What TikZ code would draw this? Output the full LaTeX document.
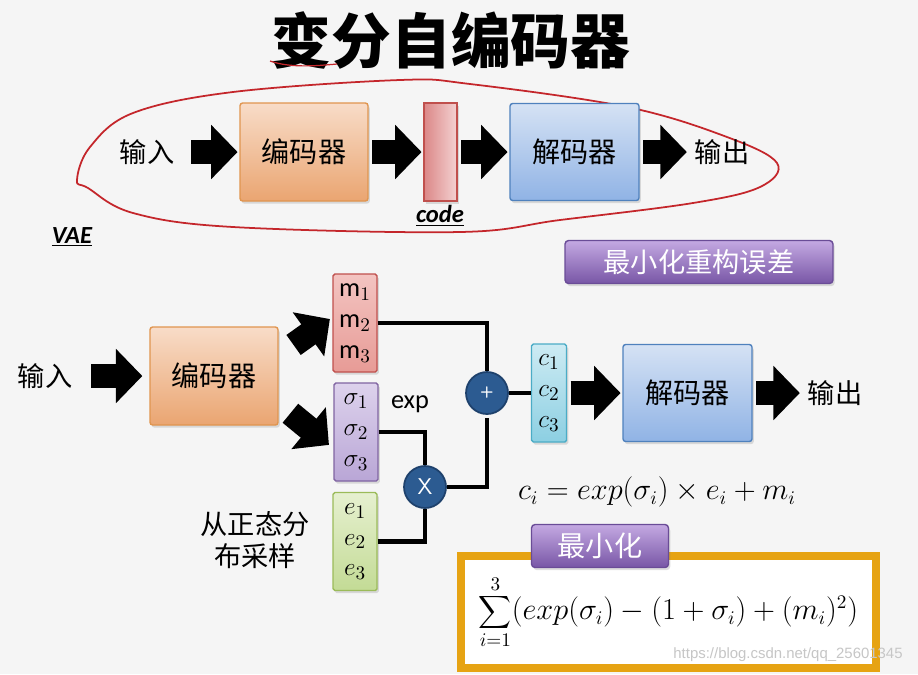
\documentclass[tikz,border=0pt]{standalone}
\usepackage{fontspec}
\setmainfont{Carlito}
\newfontfamily\cjk{Noto Sans CJK SC}
\newfontfamily\wmfont{Liberation Sans}
\usetikzlibrary{positioning,arrows.meta,shadows}

\definecolor{bgcol}{HTML}{F5F5F5}
\definecolor{encT}{HTML}{F8DCC8}
\definecolor{encB}{HTML}{EAA571}
\definecolor{encD}{HTML}{E0954F}
\definecolor{decT}{HTML}{D5E2F4}
\definecolor{decB}{HTML}{90B3E5}
\definecolor{decD}{HTML}{4F81BD}
\definecolor{codeL}{HTML}{DB8787}
\definecolor{codeR}{HTML}{F4D2D2}
\definecolor{redD}{HTML}{C0504D}
\definecolor{mT}{HTML}{F3C4C1}
\definecolor{mB}{HTML}{E79B96}
\definecolor{sT}{HTML}{DDD2EC}
\definecolor{sB}{HTML}{B9A6D6}
\definecolor{sD}{HTML}{8064A2}
\definecolor{eT}{HTML}{E6F0D0}
\definecolor{eB}{HTML}{C3DB95}
\definecolor{eD}{HTML}{9BBB59}
\definecolor{cT}{HTML}{CDEBF3}
\definecolor{cB}{HTML}{8CCFE2}
\definecolor{cD}{HTML}{4BACC6}
\definecolor{opfill}{HTML}{2C5B91}
\definecolor{opdraw}{HTML}{1E416C}
\definecolor{btnT}{HTML}{C4A9E2}
\definecolor{btnB}{HTML}{7856A6}
\definecolor{btnD}{HTML}{6A4C97}
\definecolor{lossD}{HTML}{E6A313}
\definecolor{inkred}{HTML}{C4262B}

\begin{document}
\begin{tikzpicture}[x=0.02cm,y=-0.02cm,
    softshadow/.style={drop shadow={opacity=0.25, shadow xshift=1pt, shadow yshift=-1.5pt}},
    block/.style={rectangle, rounded corners=1.5pt, minimum width=2.56cm, minimum height=1.96cm, line width=0.8pt, font=\cjk\fontsize{16}{18}\selectfont, softshadow},
    encbox/.style={block, top color=encT, bottom color=encB, draw=encD},
    decbox/.style={block, top color=decT, bottom color=decB, draw=decD},
    vec/.style={rectangle, rounded corners=1pt, minimum width=0.88cm, minimum height=1.96cm, inner sep=0pt, align=center, line width=0.8pt, font=\fontsize{15}{17.5}\selectfont, softshadow},
    op/.style={circle, minimum size=0.84cm, inner sep=0pt, fill=opfill, draw=opdraw, line width=1pt, text=white, font=\sffamily},
    fat/.style={line width=14pt, -{Triangle[width=30pt,length=15pt]}, shorten <=2pt, shorten >=1pt},
    wire/.style={line width=2.8pt},
    btn/.style={rectangle, rounded corners=2pt, top color=btnT, bottom color=btnB, draw=btnD, line width=0.8pt, text=white, font=\cjk\fontsize{15.5}{18}\selectfont, softshadow},
    lbl/.style={font=\cjk\fontsize{15.5}{18}\selectfont}]

    \fill[bgcol] (0,0) rectangle (918,674);
    \useasboundingbox (0,0) rectangle (918,674);

    \node[font=\cjk\bfseries\fontsize{34}{40}\selectfont] (title) at (451,40) {变分自编码器};
    \draw[inkred, line width=0.7pt] (270,61) .. controls (290,68) and (315,66) .. (337,64);

    \draw[inkred, line width=1pt] plot[smooth cycle, tension=0.6] coordinates {(77,180) (90,147) (133,113) (233,92) (400,80) (470,84) (627,107) (727,137) (777,163) (760,187) (693,203) (560,220) (460,232) (233,227) (133,213) (88,188)};

    \node[lbl] (in1) at (147,152) {输入};
    \node[encbox] (enc1) at (304,152) {编码器};
    \node[rectangle, minimum width=0.66cm, minimum height=1.96cm, left color=codeL, right color=codeR, draw=redD, line width=0.8pt, softshadow] (code) at (440.5,152) {};
    \node[decbox, minimum width=2.58cm, minimum height=1.94cm] (dec1) at (574.5,152) {解码器};
    \node[lbl] (out1) at (722,152) {输出};

    \draw[fat, shorten <=0.22cm] (in1) -- (enc1);
    \draw[fat] (enc1) -- (code);
    \draw[fat] (code) -- (dec1);
    \draw[fat] (dec1) -- (out1);

    \node[font=\bfseries\itshape\fontsize{14}{16}\selectfont] (codelbl) at (440,216) {\underline{code}};
    \node[font=\bfseries\itshape\fontsize{14}{16}\selectfont] (vaelbl) at (72,237) {\underline{VAE}};

    \node[btn, minimum width=5.36cm, minimum height=0.86cm] (recbtn) at (699,262) {最小化重构误差};

    \node[lbl] (in2) at (45,376) {输入};
    \node[encbox] (enc2) at (214,376) {编码器};
    \node[vec, top color=mT, bottom color=mB, draw=redD] (mbox) at (355,323) {m$_1$\\m$_2$\\m$_3$};
    \node[vec, top color=sT, bottom color=sB, draw=sD] (sbox) at (356,432) {$\sigma_1$\\$\sigma_2$\\$\sigma_3$};
    \node[vec, top color=eT, bottom color=eB, draw=eD] (ebox) at (355,541.5) {$e_1$\\$e_2$\\$e_3$};
    \node[op, font=\sffamily\bfseries\fontsize{9}{10}\selectfont] (plus) at (487,393) {+};
    \node[op, font=\sffamily\fontsize{13}{14}\selectfont] (times) at (425,487) {X};
    \node[vec, minimum width=0.7cm, top color=cT, bottom color=cB, draw=cD] (cbox) at (549,393) {$c_1$\\$c_2$\\$c_3$};
    \node[decbox, minimum width=2.58cm, minimum height=1.94cm] (dec2) at (687.5,393) {解码器};
    \node[lbl] (out2) at (835,393) {输出};

    \draw[fat, shorten <=0.26cm, shorten >=0.14cm] (in2) -- (enc2);
    \draw[fat] ([shift={(12,-29)}]enc2.east) -- ([shift={(-1,-5)}]mbox.west);
    \draw[fat] ([shift={(9,35)}]enc2.east) -- ([shift={(-3,14)}]sbox.west);
    \draw[fat] (cbox) -- (dec2);
    \draw[fat] (dec2) -- (out2);

    \draw[wire] (mbox.east) -| (plus.north);
    \draw[wire, shorten <=2pt] (plus.south) |- (times.east);
    \draw[wire] (sbox.east) -| (times.north);
    \draw[wire] (ebox.east) -| (times.south);
    \draw[wire] (plus.east) -- (cbox.west);

    \node[font=\fontsize{15}{17}\selectfont] (explbl) at (410,404) {exp};
    \node[lbl, align=center] (sample) at (255,540) {从正态分\\布采样};
    \node[font=\fontsize{16}{18}\selectfont] (eqc) at (657,492) {$c_i = exp(\sigma_i) \times e_i + m_i$};

    \node[rectangle, draw=lossD, fill=white, line width=4.5pt, minimum width=8.3cm, minimum height=2.24cm, font=\fontsize{16}{18}\selectfont] (loss) at (668.5,612) {$\mathop{\vcenter{\hbox{\scalebox{1.3}{$\displaystyle\sum$}}}}\limits_{i=1}^{3}(exp(\sigma_i)-(1+\sigma_i)+(m_i)^2)$};
    \node[btn, minimum width=2.74cm, minimum height=0.86cm, font=\cjk\fontsize{16}{18}\selectfont] (minbtn) at (600,546) {最小化};

    \node[font=\wmfont\fontsize{8.5}{10}\selectfont, text=gray!45] (wm) at (788,655) {https://blog.csdn.net/qq\_25601345};
\end{tikzpicture}
\end{document}
